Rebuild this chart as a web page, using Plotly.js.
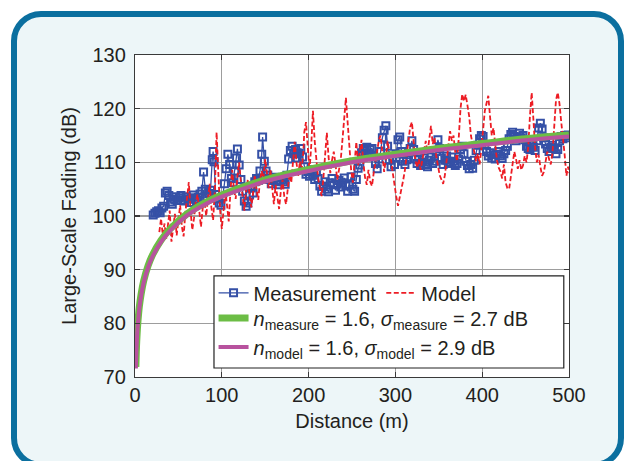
<!DOCTYPE html>
<html>
<head>
<meta charset="utf-8">
<script src="https://cdn.plot.ly/plotly-3.0.1.min.js"></script>
<style>
  html, body { margin: 0; padding: 0; background: #ffffff; overflow: hidden; }
  #frame { position: absolute; left: 11px; top: 11px; width: 601px; height: 445px;
           border: 6px solid #0b6f9f; border-radius: 30px; background: #edf6f8; }
  #chart { position: absolute; left: 0; top: 0; width: 626px; height: 461px; }
</style>
</head>
<body>
<div id="frame"></div>
<div id="chart"></div>
<script>
// ---- Measurement (blue, squares) ----
const measD = [21,23,25,27,29,31,33,35,37,39,41,43,45,47,49,51,53,55,57,59,61,63,65,67,69,71,73,75,77,79,81,83,85,87,89,90,91,93,95,97,99,101,103,105,107,109,111,113,115,117,118,120,122,124,126,128,130,132,134,136,138,140,142,144,146,147,149,151,153,155,157,159,161,163,165,167,169,171,173,175,177,179,181,183,185,187,189,191,193,195,197,199,201,203,205,207,209,211,213,215,217,219,221,223,225,227,229,231,233,235,237,239,241,243,245,247,249,251,253,255,257,259,261,263,265,267,269,271,273,275,277,279,281,283,285,287,289,291,293,295,297,299,301,303,305,307,309,311,313,315,317,319,321,323,325,327,329,331,333,335,337,339,341,343,345,347,349,351,353,355,357,359,361,363,365,367,369,371,373,375,377,379,381,383,385,387,389,391,393,395,397,399,401,403,405,407,409,411,413,415,417,419,421,423,425,427,429,431,433,435,437,439,441,443,445,447,449,451,453,455,457,459,461,463,465,467,469,471,473,475,477,479,481,483,485,487,489,491,493,495,497,499,500];
const measV = [100.2,100.5,100.8,101.0,100.6,101.5,101.8,104.3,104.6,103.8,102.6,102.2,103.1,103.6,102.9,103.4,103.8,103.0,102.8,103.6,103.2,102.5,103.4,103.9,103.1,102.9,103.5,104.1,104.6,108.2,105.0,103.6,104.2,104.8,110.5,112.0,110.1,104.0,103.2,102.4,102.0,103.6,106.0,108.8,111.5,109.6,107.0,106.2,108.4,110.8,112.5,109.5,106.8,104.6,102.8,101.8,102.4,103.9,105.2,104.3,106.4,107.0,106.6,108.4,111.5,114.7,110.2,108.4,107.6,106.8,106.0,106.6,107.2,106.4,105.8,106.5,107.1,106.4,105.9,107.6,110.6,112.2,113.0,111.6,112.4,110.8,111.7,112.6,111.0,109.2,107.8,108.3,107.4,108.6,107.6,106.8,108.2,107.0,105.6,104.6,105.5,106.4,105.0,104.5,106.2,107.0,105.8,104.8,105.9,106.6,105.4,106.2,107.1,105.6,104.6,105.8,107.3,105.0,104.6,106.8,108.9,109.5,111.8,112.6,112.2,112.8,111.6,112.4,112.6,111.0,109.8,108.8,110.6,112.0,114.6,116.0,116.8,113.0,110.4,109.2,110.8,109.6,111.6,114.2,114.7,112.0,110.2,109.6,110.5,111.4,112.6,114.0,112.4,110.6,109.8,110.5,109.4,110.0,110.8,109.6,109.2,110.4,111.0,109.8,110.2,112.0,114.2,112.6,110.8,109.6,110.4,111.2,109.8,110.0,111.0,110.2,109.4,109.8,110.6,112.4,113.0,111.6,110.2,109.4,108.8,109.6,108.9,110.4,112.2,113.2,114.4,115.0,114.8,113.2,112.0,111.2,111.8,110.8,111.4,110.6,111.5,112.0,111.2,110.7,111.6,112.2,113.0,114.4,115.2,115.6,114.8,114.0,114.6,115.4,114.6,115.0,114.2,113.0,112.6,112.4,113.2,112.8,112.2,114.0,116.4,117.3,116.2,114.6,113.4,112.6,112.0,112.8,113.2,112.6,111.6,112.4,114.0,114.8,114.4,115.0,114.6,115.1];

// ---- Model (red, dashed) ----
const modelD = [28,30,32,34,36,38,40,42,44,46,48,50,52,54,56,58,60,62,64,66,68,70,72,74,76,78,80,82,84,86,88,90,92,94,96,98,100,102,104,106,108,110,112,114,116,118,120,122,124,126,128,130,132,134,136,138,140,142,144,146,148,150,152,154,156,158,160,162,164,166,168,170,172,174,176,178,180,182,184,186,188,190,192,194,195,197,199,201,203,205,207,209,211,213,215,217,219,221,223,225,227,229,231,233,235,237,239,241,243,245,247,249,251,253,255,257,259,261,263,265,267,269,271,273,275,277,279,281,283,285,287,289,291,293,295,297,299,301,303,305,307,309,311,313,315,317,319,321,323,325,327,329,331,333,335,337,339,341,343,345,347,349,351,353,355,357,359,361,363,365,367,369,371,373,375,377,379,381,383,385,387,389,391,393,395,397,399,401,403,405,407,409,411,413,415,417,419,421,423,425,427,429,431,433,435,437,439,441,443,445,447,449,451,453,455,457,459,461,463,465,467,469,471,473,475,477,479,481,483,485,487,489,491,493,495,497,499,500];
const modelV = [97.0,99.5,96.5,98.6,95.8,99.0,101.0,95.2,97.8,100.4,96.4,99.8,102.0,98.0,96.2,100.6,104.2,106.3,101.0,97.4,99.6,102.6,104.0,100.8,98.0,101.4,103.0,100.0,102.8,106.0,101.6,99.2,104.8,115.6,108.0,101.2,97.6,100.6,104.4,102.0,99.0,104.8,108.6,105.0,103.2,107.4,110.0,106.2,103.4,101.0,104.6,106.8,104.0,101.6,104.2,107.6,105.0,103.0,106.6,108.4,107.0,110.6,108.0,105.2,108.6,104.6,102.2,105.8,103.0,101.3,104.6,106.8,103.6,102.2,105.0,107.8,106.2,109.6,113.8,110.0,107.4,110.2,108.6,112.0,115.6,117.5,112.6,108.4,113.0,119.6,114.0,109.8,107.0,105.2,103.7,107.0,111.4,115.5,111.0,108.0,110.4,112.0,109.6,106.8,108.6,110.4,114.2,119.0,122.0,117.4,112.0,108.6,106.2,109.8,113.8,109.4,111.6,114.2,110.0,107.2,105.8,108.6,106.4,105.6,108.0,110.2,111.8,114.2,115.0,111.0,108.2,110.6,114.0,112.0,110.4,108.0,105.4,103.6,101.9,103.4,105.0,106.7,108.6,111.0,114.4,116.6,117.5,113.6,110.4,109.0,110.6,108.6,110.4,112.8,114.0,111.8,114.6,116.8,113.4,114.6,111.2,109.0,107.6,106.8,106.0,107.6,110.4,112.8,115.8,114.0,115.0,111.8,110.2,114.6,120.0,122.7,121.4,122.6,120.2,118.6,115.0,113.4,112.0,110.2,111.6,109.6,112.4,116.0,119.6,121.0,122.4,118.6,115.0,116.4,113.2,110.4,109.0,108.3,107.0,109.6,106.2,105.2,105.0,107.6,110.4,112.0,110.6,108.8,110.4,108.6,109.4,111.2,110.0,112.8,118.6,123.0,118.0,112.6,110.0,111.4,109.2,107.5,108.2,110.4,112.0,110.6,109.6,111.8,116.2,121.6,123.0,121.0,117.6,115.0,111.4,107.5,109.2,108.0,107.2];

// ---- Fitted path-loss curves ----
const fitD       = [1,1.5,2,3,4,5,7,10,15,20,30,40,60,80,100,130,160,200,250,300,350,400,450,500];
const fitMeasure = [71.9,74.7,76.7,79.5,81.5,83.1,85.4,87.9,90.7,92.7,95.5,97.5,100.4,102.4,103.9,105.7,107.2,108.7,110.3,111.5,112.6,113.5,114.4,115.1];
const fitModel   = [71.6,74.4,76.4,79.2,81.2,82.8,85.1,87.6,90.4,92.4,95.2,97.2,100.1,102.1,103.6,105.4,106.9,108.4,110.0,111.2,112.3,113.2,114.1,114.8];

const xTicks = [0,100,200,300,400,500];
const yTicks = [70,80,90,100,110,120,130];

const FONT = '"Liberation Sans", Arial, Helvetica, sans-serif';
const TXT = '#231f20';

const traces = [
  { x: measD, y: measV, name: 'Measurement', type: 'scatter', mode: 'lines+markers',
    line: { color: '#3550a6', width: 1.3 },
    marker: { symbol: 'square-open', size: 7, color: '#3550a6', line: { width: 2, color: '#3550a6' } },
    legend: 'legend' },
  { x: modelD, y: modelV, name: 'Model', type: 'scatter', mode: 'lines',
    line: { color: '#ed1c24', width: 1.8, dash: '5px,2.5px' }, legend: 'legend' },
  { x: fitD, y: fitMeasure, type: 'scatter', mode: 'lines', line: { color: '#6cbd45', width: 7, shape: 'spline' },
    name: '<i>n</i><sub>measure</sub> = 1.6, <i>σ</i><sub>measure</sub> = 2.7 dB', legend: 'legend2' },
  { x: fitD, y: fitModel, type: 'scatter', mode: 'lines', line: { color: '#b8529e', width: 4, shape: 'spline' },
    name: '<i>n</i><sub>model</sub> = 1.6, <i>σ</i><sub>model</sub> = 2.9 dB', legend: 'legend2' }
];

const axisCommon = {
  showline: true, linecolor: '#3a3a3a', linewidth: 1.2, mirror: 'ticks',
  ticks: 'inside', ticklen: 5, tickcolor: '#3a3a3a', tickwidth: 1.2,
  showgrid: true, gridcolor: '#9d9d9d', gridwidth: 1.3, zeroline: false,
  tickfont: { family: FONT, size: 20, color: TXT }
};

const layout = {
  width: 626, height: 461,
  margin: { l: 135, r: 57, t: 55, b: 84 },
  paper_bgcolor: 'rgba(0,0,0,0)',
  plot_bgcolor: '#ffffff',
  font: { family: FONT, color: TXT, size: 20 },
  showlegend: true,
  xaxis: Object.assign({}, axisCommon, {
    range: [0, 500], tickvals: xTicks, ticktext: xTicks.map(String),
    title: { text: 'Distance (m)', font: { family: FONT, size: 20, color: TXT }, standoff: 8 }
  }),
  yaxis: Object.assign({}, axisCommon, {
    range: [70, 130], tickvals: yTicks, ticktext: yTicks.map(String),
    ticklabelstandoff: 4,
    title: { text: 'Large-Scale Fading (dB)', font: { family: FONT, size: 20, color: TXT }, standoff: 10 }
  }),
  legend: {
    orientation: 'h', x: 0.181, xanchor: 'left', y: 0.322, yanchor: 'top',
    bgcolor: 'rgba(0,0,0,0)', borderwidth: 0, itemwidth: 30,
    font: { family: FONT, size: 20, color: TXT }, itemclick: false, itemdoubleclick: false
  },
  legend2: {
    orientation: 'v', x: 0.181, xanchor: 'left', y: 0.244, yanchor: 'top',
    bgcolor: 'rgba(0,0,0,0)', borderwidth: 0, itemwidth: 30, tracegroupgap: 0,
    font: { family: FONT, size: 20, color: TXT }, itemclick: false, itemdoubleclick: false
  },
  shapes: [
    { type: 'rect', xref: 'paper', yref: 'paper', x0: 0.182, x1: 0.988, y0: 0.028, y1: 0.314,
      fillcolor: '#ffffff', line: { color: '#222222', width: 1.2 }, layer: 'above' }
  ]
};

Plotly.newPlot('chart', traces, layout, { staticPlot: true, displayModeBar: false });
</script>
</body>
</html>
